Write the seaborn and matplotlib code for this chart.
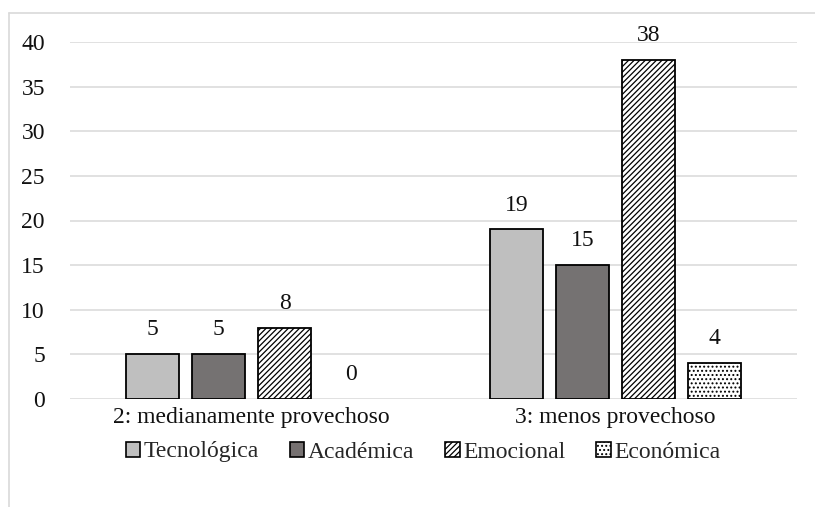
import numpy as np
import pandas as pd
import matplotlib
matplotlib.use("Agg")
import matplotlib.pyplot as plt
import seaborn as sns
from matplotlib.patches import Patch
from matplotlib.lines import Line2D

# data
categories = ["2: medianamente provechoso", "3: menos provechoso"]
series = ["Tecnológica", "Académica", "Emocional", "Económica"]
values = {
    "Tecnológica": [5, 19],
    "Académica": [5, 15],
    "Emocional": [8, 38],
    "Económica": [0, 4],
}
colors = ["#BFBFBF", "#767171", "white", "white"]
hatches = [None, None, "//////", "...."]

rows = []
for s in series:
    for c, v in zip(categories, values[s]):
        rows.append({"cat": c, "serie": s, "valor": v})
df = pd.DataFrame(rows)

sns.set_style("white")
plt.rcParams["font.family"] = ["Liberation Serif", "DejaVu Serif"]
plt.rcParams["hatch.linewidth"] = 0.9
FS = 17

fig = plt.figure(figsize=(8.15, 5.07), dpi=100)
ax = fig.add_axes([70 / 815, 1 - 399 / 507, (797 - 70) / 815, (399 - 42) / 507])

sns.barplot(data=df, x="cat", y="valor", hue="serie", hue_order=series,
            palette=colors, width=0.726, gap=0.2, edgecolor="black",
            linewidth=1.3, legend=False, ax=ax, zorder=3)

for cont, h in zip(ax.containers, hatches):
    for p in cont.patches:
        if h:
            p.set_hatch(h)
        if p.get_height() == 0:
            p.set_linewidth(0)
    ax.bar_label(cont, fmt="%d", padding=10, fontsize=FS, color="#111111")

ax.set_ylim(0, 40)
ax.set_yticks(np.arange(0, 41, 5))
ax.grid(axis="y", color="#D9D9D9", linewidth=1.1, zorder=0)
ax.set_axisbelow(True)
for sp in ax.spines.values():
    sp.set_visible(False)
ax.tick_params(axis="both", length=0, labelsize=FS, colors="#111111")
ax.tick_params(axis="y", pad=18)
ax.tick_params(axis="x", pad=6)
ax.set_xlabel("")
ax.set_ylabel("")

handles = [Patch(facecolor=c, edgecolor="black", hatch=h, linewidth=1.2)
           for c, h in zip(colors, hatches)]
fig.legend(handles, series, loc="center", bbox_to_anchor=(423 / 815, 1 - 452 / 507),
           ncol=4, frameon=False, fontsize=FS, handlelength=0.62, handleheight=0.62,
           handletextpad=0.15, columnspacing=1.3)

# light chart-area border (top and left visible in the reference)
fig.add_artist(Line2D([9 / 815, 1], [1 - 13 / 507, 1 - 13 / 507], color="#D9D9D9",
                      linewidth=1.2, transform=fig.transFigure))
fig.add_artist(Line2D([9 / 815, 9 / 815], [0, 1 - 13 / 507], color="#D9D9D9",
                      linewidth=1.2, transform=fig.transFigure))

fig.savefig("out.png", dpi=100, facecolor="white")
